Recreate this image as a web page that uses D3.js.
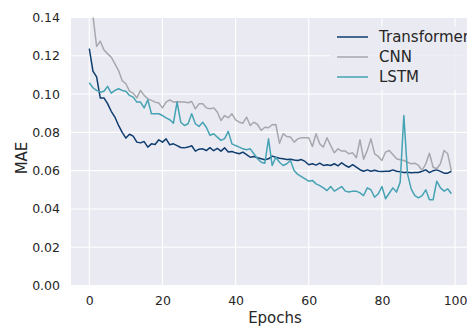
<!DOCTYPE html>
<html>
<head>
<meta charset="utf-8">
<script src="https://cdn.jsdelivr.net/npm/d3@7"></script>
<style>
  body { margin: 0; background: #fff; }
  svg { display: block; font-family: "DejaVu Sans", sans-serif; }
</style>
</head>
<body>
<svg width="467" height="329"></svg>
<script>
// data, epochs 0..99
var epochs = d3.range(0, 100);

var transformer = [0.1237,0.112,0.109,0.098,0.098,0.095,0.091,0.088,0.0836,0.080,
  0.077,0.079,0.078,0.0749,0.0745,0.0752,0.0723,0.074,0.0737,0.0761,
  0.0749,0.0766,0.0735,0.074,0.0731,0.0721,0.0719,0.0723,0.073,0.0702,
  0.0712,0.0714,0.0705,0.072,0.0704,0.0716,0.0702,0.0719,0.0697,0.070,
  0.0693,0.0688,0.0697,0.0684,0.067,0.0674,0.0667,0.0662,0.0657,0.0662,
  0.0676,0.067,0.0665,0.0662,0.0658,0.066,0.0656,0.0653,0.0658,0.0648,
  0.0631,0.0636,0.0629,0.0639,0.0627,0.0631,0.0627,0.0636,0.0625,0.0641,
  0.0627,0.0618,0.0631,0.0618,0.0605,0.0597,0.0604,0.0597,0.0602,0.0597,
  0.0596,0.0597,0.0597,0.0604,0.0597,0.0594,0.059,0.0592,0.0589,0.059,
  0.059,0.0597,0.0604,0.059,0.06,0.0604,0.0596,0.0587,0.0587,0.0597];

var cnn = [0.19,0.141,0.1249,0.1276,0.1231,0.121,0.1193,0.1158,0.1123,0.107,
  0.1054,0.1015,0.1005,0.098,0.1019,0.0993,0.0975,0.0967,0.0958,0.0953,
  0.0928,0.0958,0.097,0.0958,0.096,0.0958,0.0958,0.0955,0.0961,0.0923,
  0.0949,0.0949,0.0928,0.0923,0.0928,0.0906,0.0862,0.0888,0.0876,0.0897,
  0.0865,0.0853,0.0848,0.088,0.0836,0.0853,0.0841,0.081,0.0827,0.0824,
  0.084,0.0841,0.0743,0.0793,0.0778,0.0776,0.0749,0.0766,0.0772,0.0772,
  0.0772,0.0726,0.0793,0.074,0.0723,0.0772,0.0731,0.0693,0.0714,0.0702,
  0.0702,0.0688,0.0693,0.0667,0.0761,0.066,0.0705,0.0766,0.0688,0.0674,
  0.0653,0.0697,0.0705,0.0684,0.0662,0.0657,0.0653,0.0644,0.0636,0.0639,
  0.0627,0.0601,0.0636,0.0691,0.0618,0.061,0.0636,0.0705,0.0688,0.0597];

var lstm = [0.1059,0.1033,0.1019,0.101,0.1015,0.104,0.1005,0.1019,0.1028,0.1019,
  0.1015,0.0993,0.0984,0.0958,0.0958,0.0928,0.097,0.0897,0.0897,0.0897,
  0.0888,0.0876,0.0866,0.0848,0.0958,0.0853,0.0836,0.0845,0.0897,0.0845,
  0.0831,0.0853,0.0827,0.0784,0.0793,0.0775,0.0758,0.0767,0.0805,0.074,
  0.0731,0.0723,0.0714,0.0709,0.0714,0.0688,0.0662,0.0644,0.0639,0.0766,
  0.0627,0.067,0.0644,0.0627,0.0636,0.0653,0.0601,0.058,0.0569,0.0557,
  0.0545,0.0549,0.0531,0.0522,0.051,0.0496,0.0517,0.0493,0.0505,0.0517,
  0.0493,0.0488,0.0493,0.0493,0.0484,0.047,0.051,0.05,0.0461,0.0479,
  0.0517,0.0453,0.0482,0.051,0.0488,0.054,0.0888,0.0583,0.0505,0.047,
  0.0458,0.047,0.05,0.0448,0.0448,0.0545,0.051,0.0493,0.0505,0.0479];

var seriesNames = ["Transformer", "CNN", "LSTM"];
var seriesColors = ["#0f3d6e", "#a7a7ae", "#45a3b4"];
var xTicks = [0, 20, 40, 60, 80, 100];
var yTicks = [0, 0.02, 0.04, 0.06, 0.08, 0.10, 0.12, 0.14];

// plot box
var plotL = 71, plotR = 477, plotT = 17.5, plotB = 285.5;

var svg = d3.select("svg");

var x = d3.scaleLinear().domain([-5, 106]).range([plotL, plotR]),
    y = d3.scaleLinear().domain([0, 0.14]).range([plotB, plotT]);

svg.append("defs").append("clipPath").attr("id", "plotclip")
  .append("rect")
    .attr("x", plotL).attr("y", plotT)
    .attr("width", plotR - plotL).attr("height", plotB - plotT);

// background
svg.append("rect")
    .attr("x", plotL).attr("y", plotT)
    .attr("width", plotR - plotL).attr("height", plotB - plotT)
    .attr("fill", "#eaeaf2");

// grid
var grid = svg.append("g").attr("stroke", "#fff").attr("stroke-width", 1.1);
grid.selectAll(".gx").data(xTicks).enter().append("line")
    .attr("x1", d => x(d)).attr("x2", d => x(d))
    .attr("y1", plotT).attr("y2", plotB);
grid.selectAll(".gy").data(yTicks).enter().append("line")
    .attr("y1", d => y(d)).attr("y2", d => y(d))
    .attr("x1", plotL).attr("x2", plotR);

// axes
var xAxis = svg.append("g")
    .attr("transform", "translate(0," + plotB + ")")
    .call(d3.axisBottom(x).tickValues(xTicks).tickSize(0).tickPadding(11));
var yAxis = svg.append("g")
    .attr("transform", "translate(" + plotL + ",0)")
    .call(d3.axisLeft(y).tickValues(yTicks).tickSize(0).tickPadding(11).tickFormat(d3.format(".2f")));
[xAxis, yAxis].forEach(function (a) {
  a.select(".domain").remove();
  a.selectAll("text")
    .attr("fill", "#262626")
    .style("font-size", "12.5px")
    .style("font-family", "DejaVu Sans");
});

// lines
var line = d3.line()
    .x((d, i) => x(epochs[i]))
    .y(d => y(d));

var plot = svg.append("g").attr("clip-path", "url(#plotclip)");
[transformer, cnn, lstm].forEach(function (s, i) {
  plot.append("path")
      .datum(s)
      .attr("fill", "none")
      .attr("stroke", seriesColors[i])
      .attr("stroke-width", 1.5)
      .attr("stroke-linejoin", "round")
      .attr("d", line);
});

// axis labels
svg.append("text")
    .attr("x", 275).attr("y", 323)
    .attr("text-anchor", "middle")
    .attr("fill", "#262626")
    .style("font-size", "15px")
    .text("Epochs");

svg.append("text")
    .attr("transform", "translate(27,158) rotate(-90)")
    .attr("text-anchor", "middle")
    .attr("fill", "#262626")
    .style("font-size", "15px")
    .text("MAE");

// legend
var legend = svg.append("g");
legend.append("rect")
    .attr("x", 330).attr("y", 26)
    .attr("width", 150).attr("height", 64)
    .attr("rx", 3)
    .attr("fill", "#eaeaf2")
    .attr("opacity", 0.8);
seriesNames.forEach(function (name, i) {
  var yy = 37 + i * 20;
  legend.append("line")
      .attr("x1", 337).attr("x2", 368)
      .attr("y1", yy).attr("y2", yy)
      .attr("stroke", seriesColors[i])
      .attr("stroke-width", 1.5);
  legend.append("text")
      .attr("x", 379).attr("y", yy)
      .attr("dy", "0.36em")
      .attr("fill", "#262626")
      .style("font-size", "15px")
      .text(name);
});
</script>
</body>
</html>
